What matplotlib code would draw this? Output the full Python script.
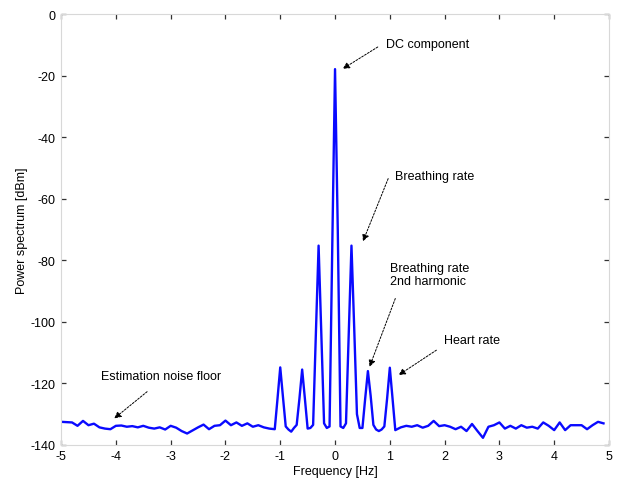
import numpy as np
import matplotlib.pyplot as plt

plt.rcParams['font.family'] = ['Liberation Sans', 'DejaVu Sans']
plt.rcParams['axes.unicode_minus'] = False

# frequency grid: coarse on the noise floor, finer around the peaks
freq_left = np.round(np.arange(-5.0, -1.15, 0.1), 2)
freq_mid = np.round(np.arange(-1.1, 1.11, 0.05), 2)
freq_right = np.round(np.arange(1.2, 4.95, 0.1), 2)

power_left = [-132.5, -132.6, -132.7, -133.8, -132.2, -133.6, -133.1, -134.3, -134.7, -134.9,
              -133.8, -133.7, -134.1, -133.9, -134.3, -133.8, -134.4, -134.7, -134.3, -135.0,
              -133.8, -134.4, -135.5, -136.3, -135.3, -134.3, -133.4, -134.9, -133.8, -133.6,
              -132.1, -133.6, -132.7, -133.8, -133.0, -134.1, -133.6, -134.3, -134.7]
power_mid = [-134.9, -125.0, -114.8, -124.5, -134.0, -135.0, -135.7, -134.5, -133.5, -125.0,
             -115.5, -125.0, -134.7, -134.5, -133.5, -104.0, -75.2, -104.0, -133.0, -134.5,
             -134.0, -75.0, -17.8, -70.0, -134.0, -134.5, -133.0, -104.0, -75.2, -102.0,
             -130.0, -134.5, -134.5, -125.0, -116.0, -124.0, -133.5, -135.0, -135.5, -135.0,
             -134.0, -125.0, -114.9, -125.0, -135.2]
power_right = [-134.3, -133.8, -134.1, -133.6, -134.4, -133.8, -132.2, -133.9, -133.6, -134.1,
               -134.9, -134.1, -135.5, -133.2, -135.5, -137.7, -134.1, -133.6, -132.7, -134.7,
               -133.8, -134.7, -133.6, -134.4, -134.1, -134.7, -132.7, -133.8, -135.2, -132.7,
               -135.2, -133.6, -133.6, -133.6, -134.9, -133.6, -132.5, -133.0]

freq = np.concatenate([freq_left, freq_mid, freq_right])
power = np.concatenate([power_left, power_mid, power_right])

# (label, text x, text y, arrow tail, arrow tip)
notes = [
    ("DC component", 0.93, -9.6, (0.78, -10.6), (0.14, -17.7)),
    ("Breathing rate", 1.10, -52.4, (0.97, -53.4), (0.51, -73.8)),
    ("Breathing rate\n2nd harmonic", 1.01, -84.6, (1.10, -92.4), (0.63, -114.6)),
    ("Heart rate", 1.99, -105.8, (1.85, -109.2), (1.16, -117.3)),
    ("Estimation noise floor", -4.28, -117.5, (-3.43, -122.7), (-4.03, -131.4)),
]

fig = plt.figure(figsize=(6.17, 4.81), dpi=100)
ax = fig.add_axes([0.099, 0.073, 0.888, 0.895])

ax.plot(freq, power, color="#0a0aff", linewidth=1.7)

ax.set_xlim(-5, 5)
ax.set_ylim(-140, 0)
ax.set_xticks(np.arange(-5, 6, 1))
ax.set_yticks(np.arange(-140, 1, 20))

for s in ax.spines.values():
    s.set_color("#d8d8d8")
    s.set_linewidth(0.8)
ax.tick_params(direction="in", top=True, right=True, length=3.5, width=0.9,
               color="#333333", labelsize=9, pad=4)

ax.set_xlabel("Frequency [Hz]", fontsize=9, labelpad=2)
ax.set_ylabel("Power spectrum [dBm]", fontsize=9, labelpad=2)

for label, tx, ty, tail, tip in notes:
    ax.text(tx, ty, label, fontsize=9, ha="left", va="center", linespacing=1.15)
    ax.annotate("", xy=tip, xytext=tail,
                arrowprops=dict(arrowstyle="-|>", color="black", lw=0.7,
                                linestyle=(0, (2, 1.5)), mutation_scale=10,
                                shrinkA=0, shrinkB=0))

plt.savefig("out.png", dpi=100)
